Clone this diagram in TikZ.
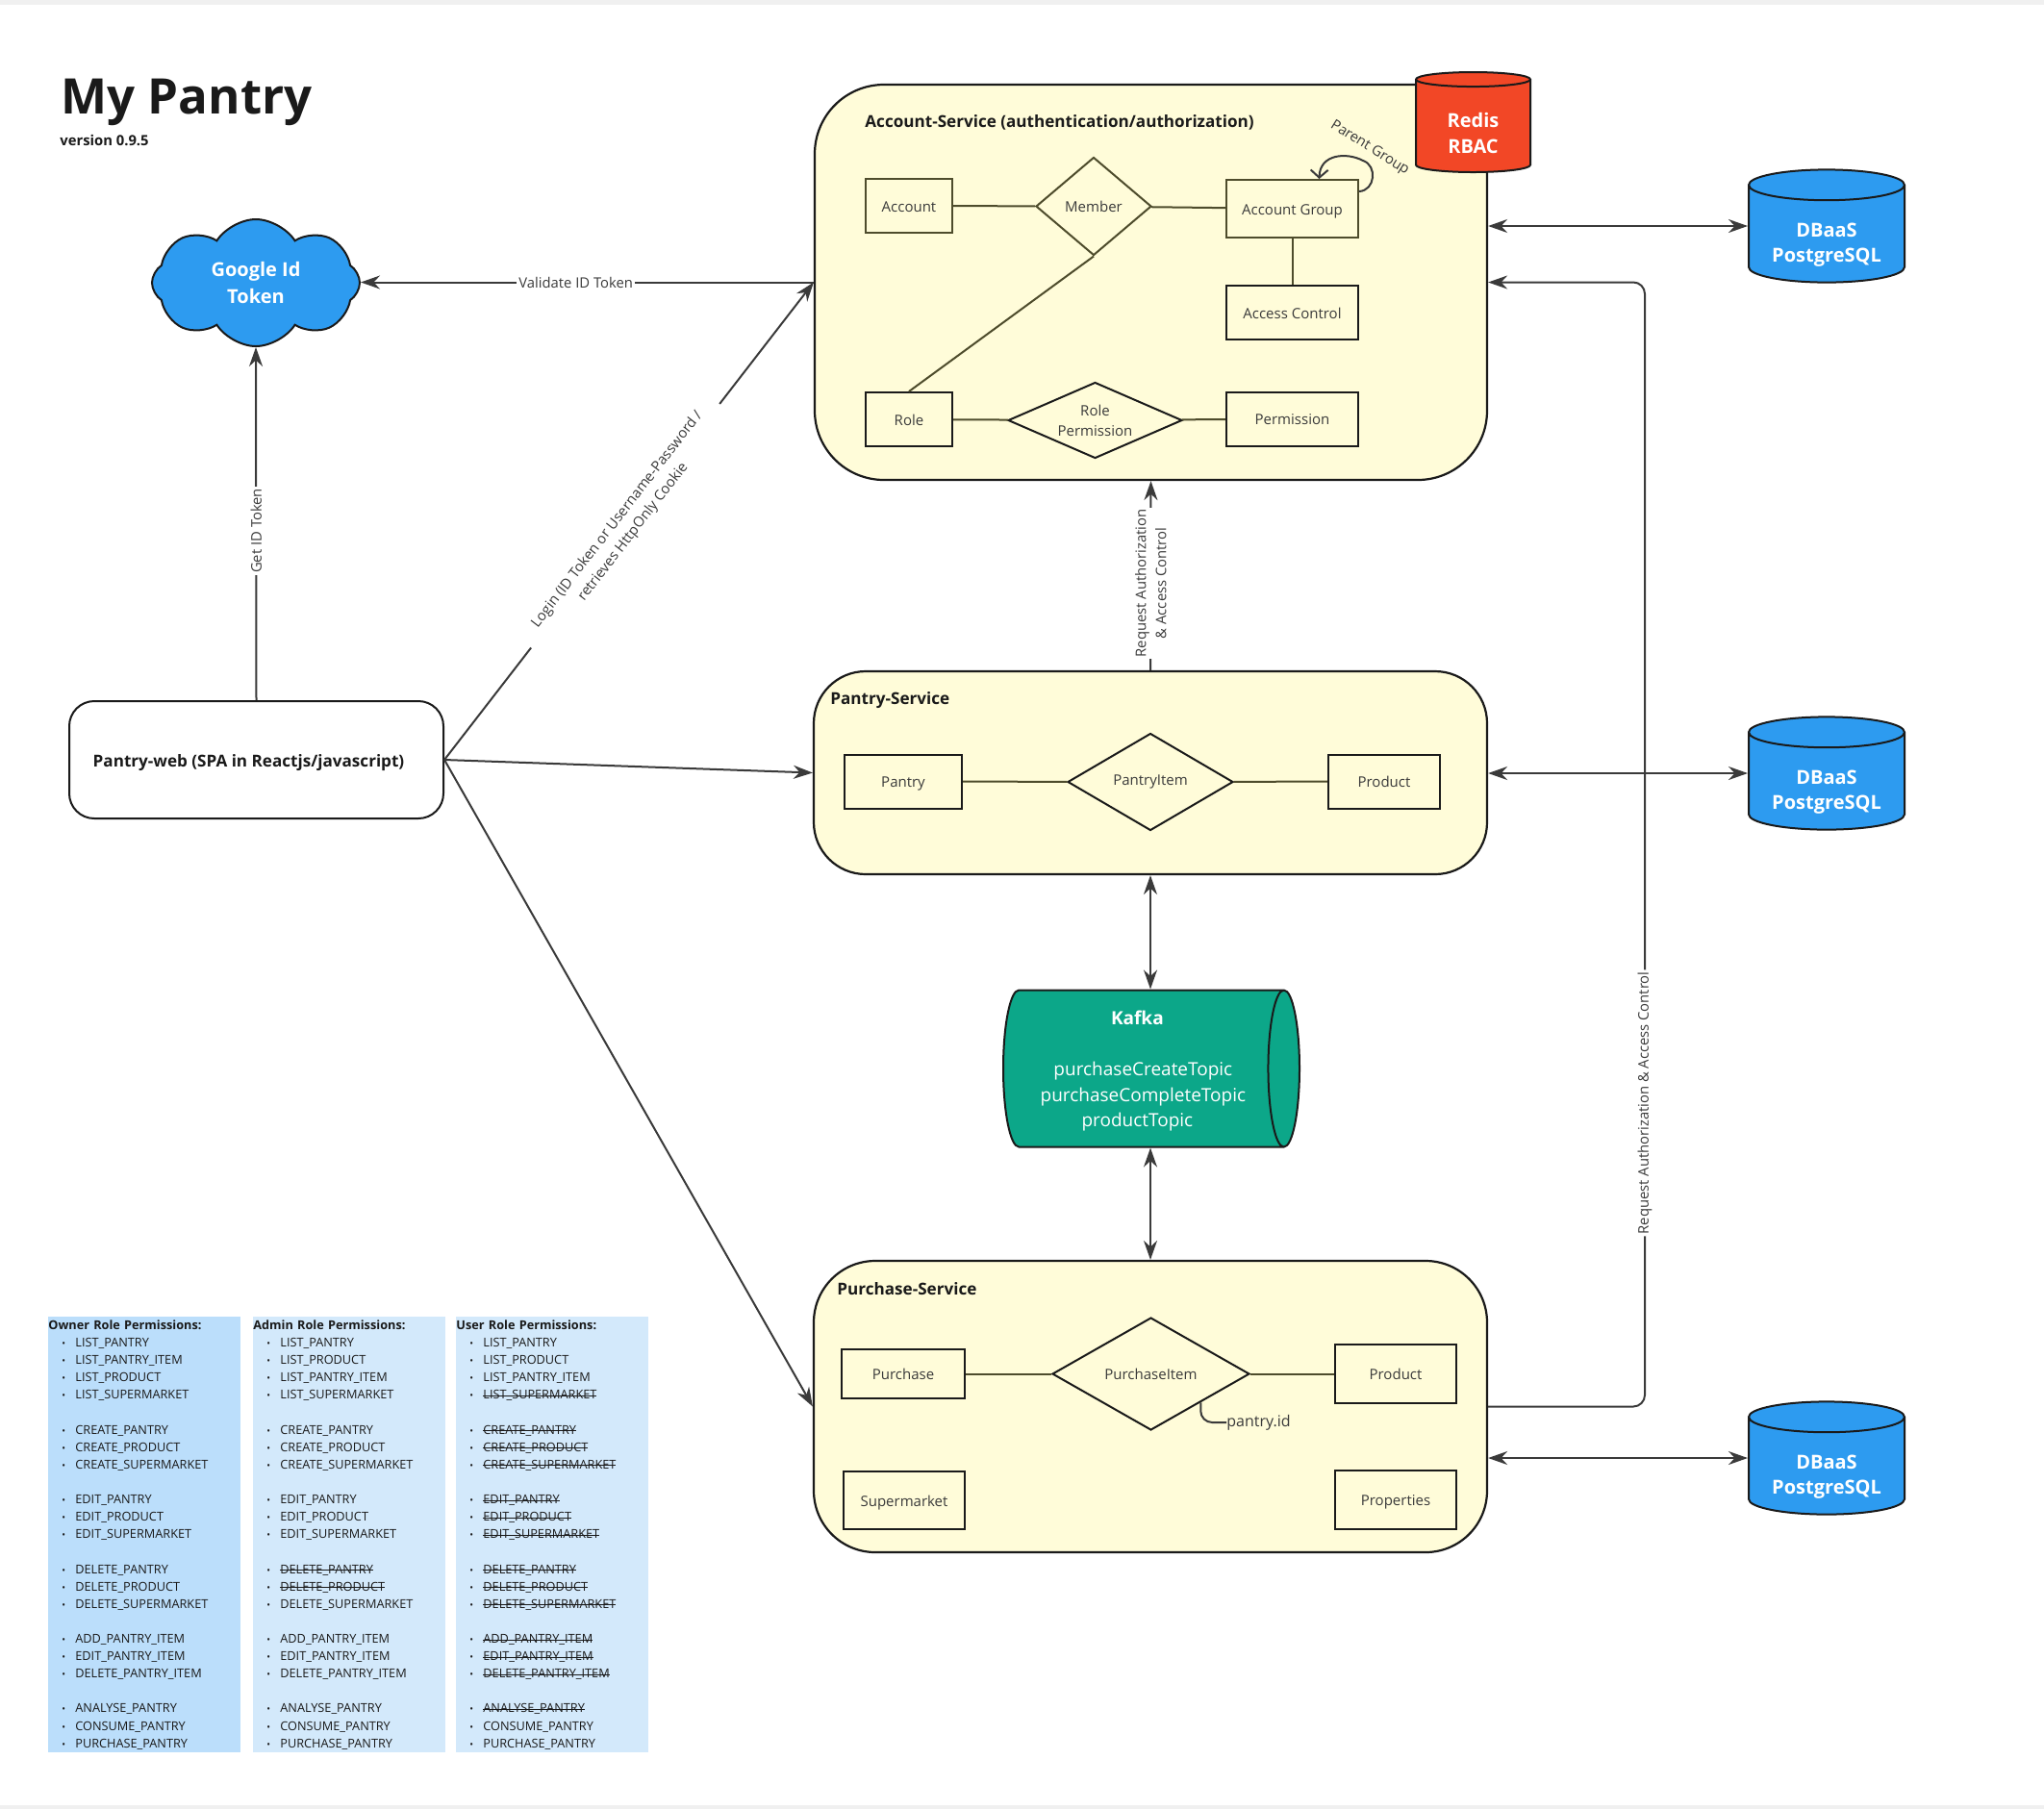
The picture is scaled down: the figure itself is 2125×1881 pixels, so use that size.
\documentclass[tikz,border=0pt]{standalone}
\usepackage{fontspec}
\setmainfont{Open Sans}
\usetikzlibrary{arrows.meta, shapes.geometric, shapes.symbols, calc, positioning}
\definecolor{PantryYellow}{HTML}{FFFCD9}
\definecolor{PantryBlue}{HTML}{2D9BF0}
\definecolor{PantryRed}{HTML}{F24726}
\definecolor{PantryGreen}{HTML}{0CA789}
\definecolor{PantryInk}{HTML}{1A1A1A}
\definecolor{PantryLine}{HTML}{3A3A3A}
\definecolor{PantryOlive}{HTML}{4E4C2C}
\definecolor{OwnerBlue}{HTML}{BBDEFB}
\definecolor{RoleBlue}{HTML}{D3E9FB}
\newcommand{\permdot}{\hspace*{7pt}\makebox[7pt][l]{\fontsize{5}{5}\selectfont\textbullet}}
\newcommand{\perm}[1]{\permdot #1}
\newcommand{\noperm}[1]{\permdot\setbox0\hbox{#1}\rlap{\rule[0.24em]{\wd0}{0.45pt}}\box0}
\newcommand{\kline}[1]{#1\hspace*{6pt}}
\begin{document}
\begin{tikzpicture}[x=0.5pt, y=-0.5pt]
\tikzset{
  svcbox/.style={rectangle, draw=PantryInk, fill=PantryYellow, line width=1.1pt},
  svctitle/.style={font=\fontsize{8.55}{11}\selectfont\bfseries, text=PantryInk, inner sep=0pt, anchor=west},
  entbox/.style={rectangle, draw=PantryInk, line width=1pt, inner sep=0pt, text height=6.2pt, text depth=0pt,
    font=\fontsize{7.5}{10.5}\selectfont, text=PantryLine},
  softbox/.style={entbox, draw=PantryOlive},
  relbox/.style={diamond, draw=PantryInk, line width=1pt, inner sep=0pt, align=center,
    font=\fontsize{7.5}{10.5}\selectfont, text=PantryLine},
  dbcyl/.style={cylinder, shape border rotate=90, aspect=0.28, draw=PantryInk, line width=1pt,
    cylinder uses custom fill, cylinder body fill=PantryBlue, cylinder end fill=PantryBlue,
    minimum width=81pt, minimum height=55pt, inner sep=0pt, text=white, align=center,
    anchor=shape center, font=\fontsize{10}{13.25}\selectfont\bfseries},
  erline/.style={PantryOlive, line width=1pt},
  flow/.style={PantryLine, line width=1pt, -{Stealth[length=10pt, width=7pt]}},
  dflow/.style={PantryLine, line width=1pt, {Stealth[length=10pt, width=7pt]}-{Stealth[length=10pt, width=7pt]}},
  lbl/.style={fill=white, text=PantryLine, inner sep=1pt, align=center,
    font=\fontsize{7.4}{10.5}\selectfont},
  permcol/.style={rectangle, anchor=north west, inner xsep=0pt, inner ysep=0pt, align=left,
    minimum width=100pt, minimum height=226.5pt, text width=100pt, text=PantryInk,
    font=\fontsize{6.36}{9.06}\selectfont}
}
\useasboundingbox (0,0) rectangle (2125,1881);
\fill[black!6] (0,0) rectangle (2125,5);
\fill[black!6] (0,1877) rectangle (2125,1881);

% ── Title ─────────────────────────────────────────────────────
\node[anchor=west, inner sep=0pt, text=PantryInk, font=\fontsize{25.5}{30}\selectfont\bfseries]
  (mainTitle) at (63,106) {My Pantry};
\node[anchor=west, inner sep=0pt, text=PantryInk, font=\fontsize{7.4}{10}\selectfont\bfseries]
  (versionTag) at (62,146) {version 0.9.5};

% ── Client and identity provider ──────────────────────────────
\node[cloud, cloud puffs=8, cloud puff arc=115, aspect=1.6, draw=PantryInk, fill=PantryBlue,
      line width=1pt, minimum width=108pt, minimum height=66pt, inner sep=0pt, text=white,
      align=center, font=\fontsize{10}{13.75}\selectfont\bfseries]
  (googleId) at (266,294) {Google Id\\Token};
\node[rectangle, rounded corners=13pt, draw=PantryInk, fill=white, line width=1pt,
      minimum width=194.5pt, minimum height=61pt, inner sep=0pt, text height=7pt, text depth=0pt,
      font=\fontsize{8.55}{11}\selectfont\bfseries, text=PantryInk]
  (pantryWeb) at (266.5,790) {Pantry-web (SPA in Reactjs/javascript)\hspace*{8pt}};

% ── Account-Service ───────────────────────────────────────────
\node[svcbox, rounded corners=36pt, minimum width=349.5pt, minimum height=205.5pt] (acctSvc) at (1196.5,293.5) {};
\node[svctitle] (acctTitle) at (899,127) {Account-Service (authentication/authorization)};
\node[softbox, minimum width=45pt, minimum height=28pt] (account) at (945,214) {Account};
\node[relbox, draw=PantryOlive, minimum width=60pt, minimum height=51pt, aspect=1.18] (member) at (1137,214.5) {Member};
\node[softbox, minimum width=68.5pt, minimum height=30pt] (acctGroup) at (1343.5,217) {Account Group};
\node[entbox, minimum width=68.5pt, minimum height=28pt] (accessCtl) at (1343.5,325) {Access Control};
\node[entbox, minimum width=45pt, minimum height=28pt] (role) at (945,436) {Role};
\node[relbox, minimum width=90.5pt, minimum height=39.5pt, aspect=2.3] (rolePerm) at (1138.5,437) {Role\\Permission};
\node[entbox, minimum width=68.5pt, minimum height=28pt] (permission) at (1343.5,435.5) {Permission};
\node[dbcyl, cylinder uses custom fill, cylinder body fill=PantryRed, cylinder end fill=PantryRed,
      minimum width=59.5pt, minimum height=52pt, aspect=0.28] (redis) at (1531.5,127) {\rule{0pt}{14.6pt}Redis\\RBAC};
\node[inner sep=0pt, rotate=-32, text=PantryLine, font=\fontsize{7.4}{9}\selectfont] (parentGroup) at (1424,154) {Parent Group};

\draw[erline] (account) -- (member);
\draw[erline] (member) -- (acctGroup);
\draw[erline] (acctGroup) -- (accessCtl);
\draw[erline] (member.south) -- (role.north);
\draw[erline] (role) -- (rolePerm);
\draw[erline] (rolePerm) -- (permission);
\draw[PantryLine, line width=1pt, -{Straight Barb[length=4pt, width=9pt]}]
  ([yshift=-6.5pt]acctGroup.north east) .. controls (1430,198) and (1432,172) .. (1417,167)
  .. controls (1400,158) and (1372,160) .. ([xshift=14pt]acctGroup.north);

% ── Pantry-Service ────────────────────────────────────────────
\node[svcbox, rounded corners=27pt, minimum width=350pt, minimum height=105.5pt] (pantrySvc) at (1196,803.5) {};
\node[svctitle] (pantryTitle) at (863,728) {Pantry-Service};
\node[entbox, minimum width=61pt, minimum height=28pt] (pantryEnt) at (939,812.5) {Pantry};
\node[relbox, minimum width=86pt, minimum height=50.5pt, aspect=1.7] (pantryItem) at (1196,813) {PantryItem};
\node[entbox, minimum width=58pt, minimum height=28pt] (productEnt) at (1439,812.5) {Product};
\draw[erline] (pantryEnt) -- (pantryItem);
\draw[erline] (pantryItem) -- (productEnt);

% ── Kafka ─────────────────────────────────────────────────────
\node[cylinder, shape border rotate=0, aspect=0.25, draw=PantryInk, line width=1pt,
      cylinder uses custom fill, cylinder body fill=PantryGreen, cylinder end fill=PantryGreen,
      minimum width=81.5pt, minimum height=154pt, inner sep=0pt, text=white, align=center,
      anchor=shape center, font=\fontsize{9.5}{13.25}\selectfont]
  (kafka) at (1197,1111) {\rule{0pt}{9.8pt}\kline{\textbf{Kafka}}\\[13.25pt]\kline{purchaseCreateTopic}\\\kline{purchaseCompleteTopic}\\\kline{productTopic}};

% ── Purchase-Service ──────────────────────────────────────────
\node[svcbox, rounded corners=32pt, minimum width=350pt, minimum height=151.5pt] (purchSvc) at (1196,1462.5) {};
\node[svctitle] (purchTitle) at (870,1340) {Purchase-Service};
\node[entbox, minimum width=64pt, minimum height=25.5pt] (purchEnt) at (939,1428.5) {Purchase};
\node[relbox, minimum width=102.5pt, minimum height=58.5pt, aspect=1.75] (purchItem) at (1196.5,1428.5) {PurchaseItem};
\node[entbox, minimum width=63pt, minimum height=30.5pt] (purchProduct) at (1451,1428.5) {Product};
\node[entbox, minimum width=63pt, minimum height=30pt] (supermarket) at (940,1560) {Supermarket};
\node[entbox, minimum width=63pt, minimum height=30.5pt] (properties) at (1451,1559.5) {Properties};
\node[anchor=west, inner sep=0pt, text=PantryLine, font=\fontsize{8}{11}\selectfont] (pantryId) at (1275,1479) {pantry.id};
\draw[erline] (purchEnt) -- (purchItem);
\draw[erline] (purchItem) -- (purchProduct);
\draw[PantryLine, line width=1pt, rounded corners=6pt] (purchItem.south east) |- (pantryId.west);

% ── Databases ─────────────────────────────────────────────────
\node[dbcyl] (dbAccount) at (1899,235) {\rule{0pt}{18.6pt}DBaaS\\PostgreSQL};
\node[dbcyl] (dbPantry) at (1899,804) {\rule{0pt}{18.6pt}DBaaS\\PostgreSQL};
\node[dbcyl] (dbPurchase) at (1899,1516) {\rule{0pt}{18.6pt}DBaaS\\PostgreSQL};

% ── Connectors ────────────────────────────────────────────────
\draw[flow] (acctSvc.west) -- node[lbl, pos=0.525] (validateLbl) {Validate ID Token} (googleId.east |- acctSvc.west);
\draw[flow] (pantryWeb.north) -- node[lbl, rotate=90, pos=0.48] (getLbl) {Get ID Token} (googleId.south);
\draw[flow] (pantryWeb.east) -- node[lbl, sloped, pos=0.49, inner xsep=10pt] (loginLbl) {Login (ID Token or Username-Password /\\retrieves HttpOnly Cookie} (acctSvc.west);
\draw[flow] (pantryWeb.east) -- (pantrySvc.west);
\draw[flow] (pantryWeb.east) -- (purchSvc.west);
\draw[flow] (pantrySvc.north) -- node[lbl, rotate=90, pos=0.46] (reqPantryLbl) {Request Authorization\\\& Access Control} (acctSvc.south);
\draw[dflow] (pantrySvc.south) -- (kafka.north -| pantrySvc.south);
\draw[dflow] (kafka.south -| purchSvc.north) -- (purchSvc.north);
\draw[flow, rounded corners=6pt] (purchSvc.east) -- (1710,1462.5) -- node[lbl, rotate=90, pos=0.27] (reqPurchLbl) {Request Authorization \& Access Control} (1710,293.5) -- (acctSvc.east);
\draw[dflow] (acctSvc.east |- dbAccount.shape center) -- (dbAccount.west |- dbAccount.shape center);
\draw[dflow] (pantrySvc.east |- dbPantry.shape center) -- (dbPantry.west |- dbPantry.shape center);
\draw[dflow] (purchSvc.east |- dbPurchase.shape center) -- (dbPurchase.west |- dbPurchase.shape center);

% ── Role permissions ──────────────────────────────────────────
\node[permcol, fill=OwnerBlue] (ownerPerm) at (50,1369) {\textbf{Owner Role Permissions:}\\
  \perm{LIST\_PANTRY}\\ \perm{LIST\_PANTRY\_ITEM}\\ \perm{LIST\_PRODUCT}\\ \perm{LIST\_SUPERMARKET}\\ \mbox{}\\
  \perm{CREATE\_PANTRY}\\ \perm{CREATE\_PRODUCT}\\ \perm{CREATE\_SUPERMARKET}\\ \mbox{}\\
  \perm{EDIT\_PANTRY}\\ \perm{EDIT\_PRODUCT}\\ \perm{EDIT\_SUPERMARKET}\\ \mbox{}\\
  \perm{DELETE\_PANTRY}\\ \perm{DELETE\_PRODUCT}\\ \perm{DELETE\_SUPERMARKET}\\ \mbox{}\\
  \perm{ADD\_PANTRY\_ITEM}\\ \perm{EDIT\_PANTRY\_ITEM}\\ \perm{DELETE\_PANTRY\_ITEM}\\ \mbox{}\\
  \perm{ANALYSE\_PANTRY}\\ \perm{CONSUME\_PANTRY}\\ \perm{PURCHASE\_PANTRY}};
\node[permcol, fill=RoleBlue] (adminPerm) at (263,1369) {\textbf{Admin Role Permissions:}\\
  \perm{LIST\_PANTRY}\\ \perm{LIST\_PRODUCT}\\ \perm{LIST\_PANTRY\_ITEM}\\ \perm{LIST\_SUPERMARKET}\\ \mbox{}\\
  \perm{CREATE\_PANTRY}\\ \perm{CREATE\_PRODUCT}\\ \perm{CREATE\_SUPERMARKET}\\ \mbox{}\\
  \perm{EDIT\_PANTRY}\\ \perm{EDIT\_PRODUCT}\\ \perm{EDIT\_SUPERMARKET}\\ \mbox{}\\
  \noperm{DELETE\_PANTRY}\\ \noperm{DELETE\_PRODUCT}\\ \perm{DELETE\_SUPERMARKET}\\ \mbox{}\\
  \perm{ADD\_PANTRY\_ITEM}\\ \perm{EDIT\_PANTRY\_ITEM}\\ \perm{DELETE\_PANTRY\_ITEM}\\ \mbox{}\\
  \perm{ANALYSE\_PANTRY}\\ \perm{CONSUME\_PANTRY}\\ \perm{PURCHASE\_PANTRY}};
\node[permcol, fill=RoleBlue] (userPerm) at (474,1369) {\textbf{User Role Permissions:}\\
  \perm{LIST\_PANTRY}\\ \perm{LIST\_PRODUCT}\\ \perm{LIST\_PANTRY\_ITEM}\\ \noperm{LIST\_SUPERMARKET}\\ \mbox{}\\
  \noperm{CREATE\_PANTRY}\\ \noperm{CREATE\_PRODUCT}\\ \noperm{CREATE\_SUPERMARKET}\\ \mbox{}\\
  \noperm{EDIT\_PANTRY}\\ \noperm{EDIT\_PRODUCT}\\ \noperm{EDIT\_SUPERMARKET}\\ \mbox{}\\
  \noperm{DELETE\_PANTRY}\\ \noperm{DELETE\_PRODUCT}\\ \noperm{DELETE\_SUPERMARKET}\\ \mbox{}\\
  \noperm{ADD\_PANTRY\_ITEM}\\ \noperm{EDIT\_PANTRY\_ITEM}\\ \noperm{DELETE\_PANTRY\_ITEM}\\ \mbox{}\\
  \noperm{ANALYSE\_PANTRY}\\ \perm{CONSUME\_PANTRY}\\ \perm{PURCHASE\_PANTRY}};
\end{tikzpicture}
\end{document}
